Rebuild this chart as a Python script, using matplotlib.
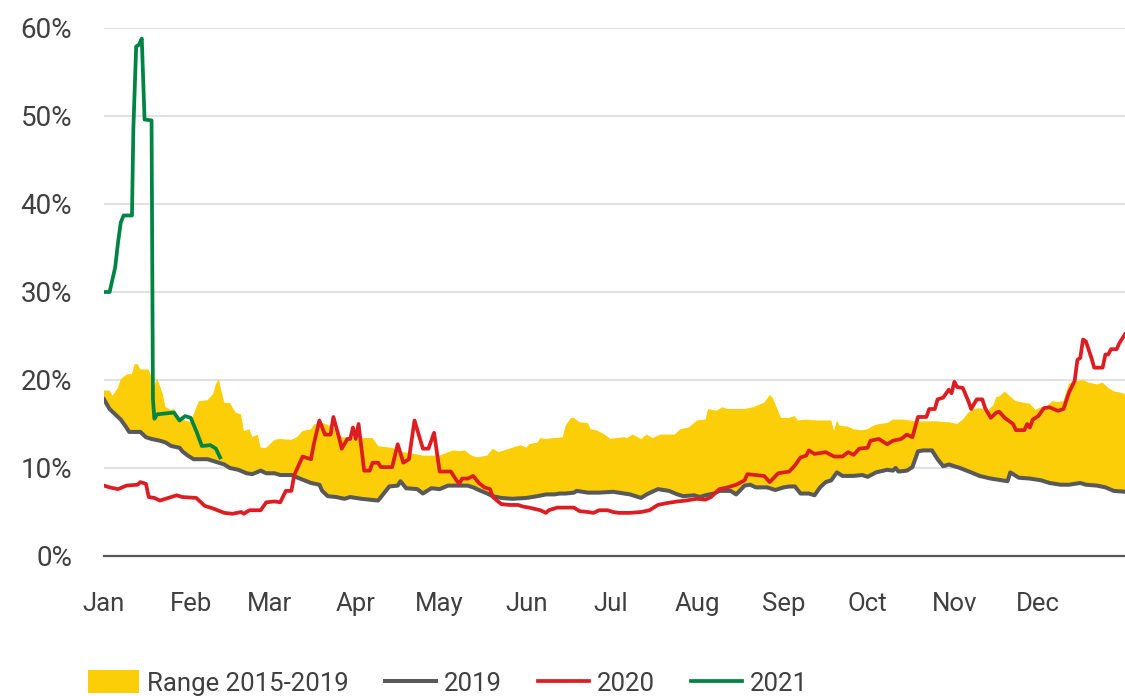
import matplotlib.pyplot as plt
import numpy as np

# day of year -> share (%)
days_2019 = [0, 2, 4, 6, 8, 9, 13, 15, 17, 20, 22, 24, 27, 28, 30, 32, 34, 37, 39, 41,
             43, 45, 48, 51, 53, 56, 58, 61, 63, 67, 70, 74, 77, 78, 80, 83, 86, 88, 92, 95,
             98, 100, 102, 105, 106, 108, 112, 114, 117, 120, 123, 126, 130, 132, 134, 137,
             139, 142, 146, 151, 155, 158, 161, 163, 165, 168, 169, 173, 177, 182, 184, 188,
             192, 194, 198, 200, 202, 205, 207, 211, 213, 215, 218, 220, 224, 226, 229, 231,
             233, 237, 240, 243, 245, 247, 249, 252, 254, 256, 258, 260, 262, 264, 268, 271,
             273, 276, 280, 282, 283, 284, 287, 289, 291, 293, 296, 298, 300, 302, 306, 310,
             313, 317, 323, 324, 325, 327, 331, 335, 338, 342, 345, 349, 351, 355, 358, 361, 365]
pct_2019 = [17.8, 16.7, 16.1, 15.5, 14.6, 14.1, 14.1, 13.5, 13.3, 13.1, 12.9, 12.5, 12.3, 11.9,
            11.4, 11.0, 11.0, 11.0, 10.8, 10.6, 10.4, 10.0, 9.8, 9.4, 9.3, 9.7, 9.4, 9.4, 9.2,
            9.2, 8.8, 8.3, 8.1, 7.4, 6.8, 6.7, 6.5, 6.7, 6.5, 6.4, 6.3, 7.1, 7.9, 8.0, 8.5, 7.7,
            7.6, 7.1, 7.7, 7.6, 8.0, 8.0, 8.0, 7.8, 7.5, 7.1, 6.8, 6.6, 6.5, 6.6, 6.8, 7.0, 7.0,
            7.1, 7.1, 7.2, 7.4, 7.2, 7.2, 7.3, 7.2, 7.0, 6.6, 7.0, 7.6, 7.5, 7.4, 7.0, 6.8, 6.9,
            6.7, 6.9, 7.1, 7.4, 7.4, 7.0, 8.0, 8.1, 7.8, 7.8, 7.5, 7.8, 7.9, 7.9, 7.1, 7.1, 6.9,
            7.8, 8.4, 8.6, 9.5, 9.1, 9.1, 9.2, 9.0, 9.5, 9.8, 9.7, 10.0, 9.6, 9.7, 10.1, 11.9,
            12.0, 12.0, 11.0, 10.2, 10.4, 10.0, 9.5, 9.1, 8.8, 8.5, 9.5, 9.3, 8.9, 8.8, 8.6, 8.3,
            8.1, 8.1, 8.3, 8.1, 8.0, 7.8, 7.4, 7.3]

days_2020 = [0, 2, 5, 8, 12, 13, 15, 16, 18, 20, 22, 26, 28, 33, 36, 39, 43, 46, 49, 50, 52,
             56, 58, 61, 63, 65, 67, 68, 71, 74, 75, 77, 79, 81, 82, 84, 85, 87, 88, 89, 90, 91,
             93, 95, 96, 98, 99, 103, 105, 107, 109, 111, 114, 116, 118, 120, 124, 126, 127, 128,
             130, 132, 134, 136, 138, 139, 142, 145, 148, 150, 152, 156, 158, 159, 162, 165, 168,
             170, 173, 175, 177, 180, 182, 184, 188, 192, 195, 198, 201, 205, 208, 212, 215, 217,
             220, 223, 226, 229, 230, 233, 236, 238, 241, 243, 245, 247, 249, 251, 252, 254, 258,
             261, 264, 266, 268, 270, 273, 274, 277, 280, 282, 285, 287, 289, 291, 294, 295, 297,
             298, 300, 302, 303, 304, 305, 307, 309, 310, 312, 314, 315, 317, 319, 320, 322, 325,
             326, 329, 330, 331, 332, 334, 336, 338, 341, 343, 345, 347, 348, 349, 350, 351, 353,
             354, 357, 358, 359, 360, 362, 363, 365]
pct_2020 = [8.0, 7.8, 7.6, 8.0, 8.1, 8.4, 8.2, 6.7, 6.6, 6.3, 6.5, 6.9, 6.7, 6.6, 5.7, 5.4, 4.9,
            4.8, 5.0, 4.8, 5.2, 5.2, 6.1, 6.2, 6.1, 7.4, 7.4, 9.2, 11.3, 11.0, 12.7, 15.4, 13.8,
            13.8, 15.8, 13.5, 12.2, 13.3, 13.3, 14.6, 13.3, 15.0, 9.7, 9.7, 10.6, 10.6, 10.1, 10.1,
            12.7, 10.6, 11.0, 15.4, 12.2, 12.2, 14.0, 9.6, 9.6, 8.6, 8.2, 8.8, 8.8, 9.1, 8.3, 7.8,
            7.6, 6.7, 5.9, 5.8, 5.8, 5.6, 5.5, 5.2, 4.9, 5.2, 5.5, 5.5, 5.5, 5.1, 5.0, 4.9, 5.2,
            5.2, 5.0, 4.9, 4.9, 5.0, 5.2, 5.8, 6.0, 6.2, 6.3, 6.5, 6.4, 6.7, 7.6, 7.8, 8.1, 8.6,
            9.3, 9.2, 9.1, 8.4, 9.4, 9.5, 9.6, 10.3, 11.2, 11.4, 12.0, 11.6, 11.8, 11.3, 11.3,
            11.8, 11.5, 12.2, 12.3, 13.1, 13.3, 12.7, 13.1, 13.3, 13.8, 13.5, 15.8, 15.8, 16.7,
            16.7, 17.8, 18.0, 18.9, 18.5, 19.8, 19.2, 19.1, 17.6, 16.7, 17.8, 17.8, 16.8, 15.7,
            16.3, 16.4, 15.7, 15.0, 14.3, 14.3, 15.0, 14.6, 15.5, 15.9, 16.8, 16.9, 16.5, 16.7,
            18.6, 19.9, 22.3, 22.5, 24.6, 24.4, 22.5, 21.4, 21.4, 22.9, 22.9, 23.5, 23.5, 24.2,
            25.2]

days_2021 = [0, 2, 4, 5, 6, 7, 10, 10.5, 11.5, 12.5, 13.5, 14.5, 17, 17.5, 18, 19, 25, 27,
             29, 31, 33, 35, 38, 40, 41.5]
pct_2021 = [30.0, 30.0, 32.8, 35.6, 37.9, 38.7, 38.7, 48.6, 57.9, 58.1, 58.8, 49.6, 49.5, 17.8,
            15.6, 16.1, 16.3, 15.4, 15.9, 15.7, 14.2, 12.5, 12.6, 12.2, 11.2]

# upper edge of the 2015-2019 band
days_range = [0, 2, 3, 5, 6, 8, 10, 11, 12, 13, 16, 18, 19, 21, 22, 24, 25, 27, 29, 31, 33, 34,
              37, 39, 40, 41, 43, 45, 47, 49, 50, 52, 53, 55, 56, 58, 61, 63, 67, 69, 71, 74, 75,
              77, 80, 82, 83, 85, 88, 93, 96, 98, 100, 103, 107, 111, 114, 118, 120, 123, 125, 127,
              129, 131, 133, 137, 139, 141, 143, 146, 149, 151, 152, 155, 156, 158, 161, 164, 165,
              167, 168, 170, 173, 174, 176, 179, 181, 183, 186, 187, 189, 192, 194, 196, 199, 204,
              206, 209, 212, 215, 216, 219, 221, 223, 226, 229, 232, 235, 236, 238, 239, 241, 242,
              245, 247, 248, 251, 255, 258, 260, 261, 262, 263, 266, 268, 271, 273, 275, 277, 280,
              282, 286, 288, 291, 294, 298, 301, 302, 305, 307, 309, 311, 313, 316, 318, 319, 320,
              322, 324, 326, 329, 331, 333, 335, 337, 339, 341, 343, 345, 348, 350, 352, 355, 357,
              359, 361, 363, 365]
range_high = [18.8, 18.8, 18.2, 19.1, 20.1, 20.6, 20.7, 21.8, 21.8, 21.2, 21.2, 19.3, 20.2, 18.4,
              16.9, 16.6, 16.7, 15.7, 15.4, 15.2, 16.9, 17.6, 17.7, 18.4, 19.5, 20.1, 17.4, 17.4,
              16.3, 16.1, 14.2, 14.4, 13.5, 13.8, 12.3, 12.3, 13.2, 13.3, 13.2, 13.5, 14.2, 14.4,
              14.9, 15.2, 14.9, 14.6, 14.2, 13.5, 13.5, 13.4, 13.4, 12.5, 12.4, 12.3, 11.8, 11.6,
              11.4, 11.4, 11.4, 11.8, 12.0, 11.9, 12.0, 11.5, 11.2, 11.4, 12.2, 11.8, 12.0, 12.3,
              12.6, 12.3, 12.7, 12.9, 13.4, 13.3, 13.4, 13.5, 14.8, 15.7, 15.7, 15.2, 15.1, 14.4,
              14.3, 13.8, 13.3, 13.4, 13.5, 13.4, 13.8, 13.3, 13.8, 13.4, 13.8, 13.8, 14.4, 14.6,
              15.4, 15.5, 16.7, 16.5, 16.9, 16.7, 16.7, 16.7, 16.9, 17.3, 17.4, 18.3, 18.0, 16.5,
              15.7, 15.7, 15.9, 15.4, 15.5, 15.4, 15.4, 15.4, 14.2, 15.4, 14.8, 14.7, 14.4, 14.3,
              14.4, 14.8, 15.0, 15.1, 15.5, 15.5, 15.4, 15.3, 15.3, 15.3, 15.2, 15.2, 15.0, 15.5,
              16.3, 16.7, 16.8, 16.5, 17.2, 18.1, 18.1, 18.7, 18.1, 17.6, 17.4, 17.3, 16.6, 16.9,
              17.0, 17.6, 17.5, 17.6, 19.6, 19.9, 20.0, 19.7, 19.5, 19.7, 19.1, 18.7, 18.6, 18.4]

month_starts = [0, 31, 59, 90, 120, 151, 181, 212, 243, 273, 304, 334]
month_labels = ['Jan', 'Feb', 'Mar', 'Apr', 'May', 'Jun', 'Jul', 'Aug', 'Sep', 'Oct', 'Nov', 'Dec']
y_ticks = [0, 10, 20, 30, 40, 50, 60]

YELLOW = '#FBCE07'
GREY = '#595959'
RED = '#DD1D21'
GREEN = '#008443'
TEXT = '#404040'

plt.rcParams['font.family'] = ['Roboto', 'DejaVu Sans']
plt.rcParams['font.size'] = 18

fig = plt.figure(figsize=(11.25, 6.96), dpi=100)
ax = fig.add_axes([104 / 1125, 140 / 696, 1021 / 1125, 528 / 696])

# band: upper edge forward, 2019 (the lowest year) back
band_x = np.concatenate([days_range, days_2019[::-1]])
band_y = np.concatenate([range_high, pct_2019[::-1]])
ax.fill(band_x, band_y, color=YELLOW, lw=0, zorder=2, label='Range 2015-2019')

ax.plot(days_2019, pct_2019, color=GREY, lw=2.9, zorder=3, label='2019')
ax.plot(days_2020, pct_2020, color=RED, lw=2.7, zorder=4, label='2020')
ax.plot(days_2021, pct_2021, color=GREEN, lw=2.7, zorder=5, label='2021')

ax.set_xlim(0, 365)
ax.set_ylim(0, 60)
ax.set_xticks(month_starts)
ax.set_xticklabels(month_labels)
ax.set_yticks(y_ticks)
ax.set_yticklabels([f'{v}%' for v in y_ticks])
ax.tick_params(length=0, colors=TEXT)
ax.tick_params(axis='x', pad=26, labelsize=18.5)
ax.tick_params(axis='y', pad=23, labelsize=20)

ax.grid(axis='y', color='#dcdcdc', lw=1.2, zorder=0)
for s in ['top', 'right', 'left']:
    ax.spines[s].set_visible(False)
ax.spines['bottom'].set_color(GREY)
ax.spines['bottom'].set_linewidth(1.6)
ax.spines['bottom'].set_zorder(6)

leg = fig.legend(loc='center left', bbox_to_anchor=(88 / 1125, 13 / 696), ncol=4,
                 frameon=False, borderpad=0, borderaxespad=0, handlelength=2.0,
                 handleheight=1.0, handletextpad=0.3, columnspacing=1.4, fontsize=18.5)
for t in leg.get_texts():
    t.set_color(TEXT)

fig.savefig('out.png', dpi=100)
